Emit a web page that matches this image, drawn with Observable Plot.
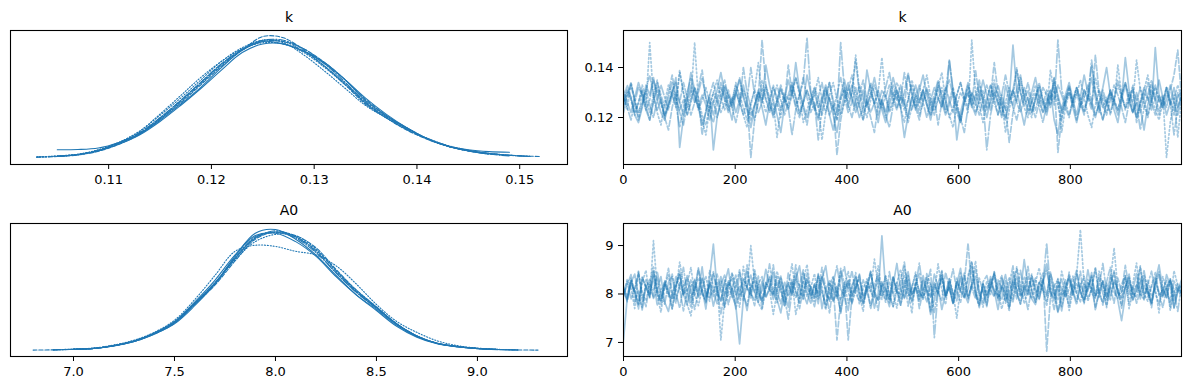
<!DOCTYPE html>
<html><head><meta charset="utf-8">
<script src="https://cdn.jsdelivr.net/npm/d3@7"></script>
<script src="https://cdn.jsdelivr.net/npm/@observablehq/plot@0.6"></script>
<style>
body{margin:0;background:#fff;}
#fig{position:relative;width:1189px;height:390px;font-family:"DejaVu Sans",sans-serif;background:#fff;}
.panel{position:absolute;}
</style></head><body><div id="fig"></div>
<script>
// ---------- data ----------
const paramNames = ["k", "A0"];
const nDraws = 1000;            // draws per chain (traces below are thinned, 150 of the 1000 draws)
const drawTicks = [0, 200, 400, 600, 800];

// KDE of k, per chain (shared grid)
const kKdeGrid = [0.103,0.105,0.107,0.109,0.111,0.113,0.115,0.117,0.119,0.121,0.123,0.125,0.127,0.129,0.131,0.133,0.135,0.137,0.139,0.141,0.143,0.145,0.147,0.149,0.151,0.152];
const kKde = [
 [null,0.070,0.072,0.085,0.13,0.20,0.31,0.44,0.58,0.74,0.88,0.95,0.93,0.87,0.78,0.64,0.47,0.35,0.25,0.16,0.10,0.070,0.055,0.050,null,null],
 [0.012,0.020,0.035,0.070,0.13,0.22,0.36,0.51,0.66,0.79,0.89,0.94,0.93,0.86,0.74,0.60,0.45,0.34,0.25,0.16,0.10,0.065,0.040,0.025,0.015,null],
 [0.010,0.015,0.028,0.058,0.115,0.195,0.32,0.45,0.60,0.75,0.88,0.99,0.98,0.88,0.75,0.60,0.44,0.33,0.23,0.155,0.10,0.062,0.040,0.026,0.018,0.015],
 [null,0.018,0.030,0.065,0.125,0.21,0.33,0.47,0.62,0.77,0.88,0.96,0.96,0.89,0.77,0.62,0.46,0.34,0.24,0.16,0.10,0.060,0.035,0.020,null,null],
 [null,0.020,0.032,0.062,0.115,0.19,0.30,0.43,0.57,0.72,0.86,0.93,0.93,0.87,0.77,0.64,0.49,0.36,0.25,0.16,0.10,0.060,0.035,null,null,null],
 [0.011,0.018,0.032,0.068,0.13,0.22,0.35,0.49,0.64,0.79,0.90,0.96,0.94,0.84,0.71,0.57,0.43,0.33,0.24,0.165,0.105,0.067,0.042,0.026,0.016,null],
 [null,0.016,0.030,0.060,0.12,0.20,0.32,0.46,0.61,0.76,0.88,0.95,0.95,0.89,0.78,0.64,0.48,0.35,0.245,0.16,0.10,0.062,0.038,0.024,null,null],
 [0.012,0.018,0.030,0.066,0.125,0.205,0.33,0.47,0.62,0.77,0.89,0.96,0.95,0.87,0.75,0.61,0.45,0.33,0.235,0.16,0.10,0.063,0.040,0.026,0.016,null]
];

// KDE of A0, per chain (shared grid)
const a0KdeGrid = [6.8,6.9,7.0,7.1,7.2,7.3,7.4,7.5,7.6,7.7,7.8,7.9,8.0,8.1,8.2,8.3,8.4,8.5,8.6,8.7,8.8,8.9,9.0,9.1,9.2,9.3];
const a0Kde = [
 [null,null,0.010,0.016,0.038,0.075,0.135,0.22,0.37,0.55,0.78,0.97,1.00,0.92,0.79,0.62,0.46,0.33,0.20,0.11,0.055,0.030,0.015,null,null,null],
 [null,null,0.012,0.020,0.045,0.085,0.15,0.25,0.42,0.62,0.82,0.87,0.86,0.82,0.79,0.70,0.55,0.38,0.24,0.15,0.080,0.040,0.020,0.010,null,null],
 [0.003,0.005,0.009,0.016,0.038,0.074,0.135,0.225,0.38,0.54,0.74,0.92,0.98,0.95,0.85,0.67,0.50,0.36,0.22,0.12,0.060,0.032,0.016,0.008,0.004,0.003],
 [null,0.005,0.010,0.017,0.040,0.078,0.14,0.23,0.39,0.55,0.76,0.93,0.99,0.94,0.82,0.64,0.48,0.35,0.22,0.12,0.060,0.032,0.016,0.008,null,null],
 [null,null,0.010,0.017,0.041,0.080,0.145,0.24,0.40,0.58,0.79,0.95,0.97,0.90,0.78,0.61,0.46,0.34,0.21,0.115,0.057,0.030,0.015,0.007,null,null],
 [null,0.006,0.011,0.018,0.042,0.080,0.145,0.235,0.39,0.56,0.75,0.90,0.96,0.95,0.84,0.66,0.50,0.36,0.22,0.12,0.060,0.034,0.017,0.009,0.005,null],
 [null,0.004,0.009,0.016,0.039,0.076,0.14,0.23,0.385,0.55,0.76,0.93,0.98,0.94,0.83,0.66,0.49,0.355,0.22,0.12,0.060,0.032,0.016,0.008,0.004,null],
 [null,null,0.010,0.017,0.040,0.077,0.14,0.23,0.39,0.56,0.77,0.94,0.975,0.93,0.81,0.645,0.485,0.35,0.22,0.12,0.060,0.033,0.016,0.008,0.004,null]
];

// Trace of k, one array per chain
const kChain0 = [0.126,0.131,0.128,0.121,0.118,0.124,0.133,0.129,0.136,0.127,0.122,0.119,0.125,0.130,0.134,0.126,0.121,0.128,0.138,0.131,0.124,0.117,0.122,0.129,0.107,0.120,0.127,0.132,0.125,0.119,0.130,0.135,0.128,0.123,0.116,0.124,0.131,0.126,0.141,0.133,0.127,0.121,0.114,0.125,0.129,0.134,0.128,0.122,0.126,0.137,0.130,0.124,0.119,0.127,0.132,0.121,0.115,0.123,0.129,0.135,0.128,0.133,0.126,0.120,0.124,0.139,0.131,0.125,0.118,0.127,0.122,0.129,0.136,0.130,0.124,0.112,0.121,0.128,0.133,0.126,0.131,0.125,0.119,0.126,0.134,0.129,0.123,0.143,0.130,0.124,0.118,0.127,0.132,0.125,0.121,0.128,0.135,0.129,0.123,0.130,0.126,0.120,0.133,0.127,0.149,0.131,0.124,0.117,0.125,0.130,0.136,0.128,0.122,0.126,0.131,0.119,0.113,0.124,0.129,0.134,0.127,0.121,0.128,0.137,0.130,0.125,0.120,0.126,0.132,0.140,0.129,0.123,0.118,0.127,0.133,0.126,0.122,0.130,0.124,0.115,0.125,0.131,0.127,0.135,0.128,0.121,0.126,0.132,0.124,0.129];
const kChain1 = [0.129,0.123,0.134,0.127,0.120,0.131,0.125,0.150,0.128,0.122,0.117,0.126,0.133,0.129,0.124,0.138,0.130,0.121,0.127,0.132,0.125,0.119,0.113,0.124,0.130,0.135,0.128,0.123,0.129,0.126,0.134,0.127,0.121,0.116,0.125,0.131,0.142,0.128,0.122,0.127,0.133,0.126,0.120,0.128,0.124,0.130,0.136,0.129,0.118,0.123,0.128,0.132,0.125,0.111,0.122,0.129,0.134,0.127,0.121,0.126,0.131,0.137,0.129,0.124,0.119,0.127,0.133,0.125,0.130,0.144,0.128,0.122,0.126,0.131,0.124,0.118,0.127,0.135,0.129,0.123,0.130,0.126,0.121,0.125,0.132,0.138,0.127,0.120,0.124,0.129,0.134,0.127,0.122,0.151,0.130,0.125,0.118,0.126,0.133,0.128,0.121,0.127,0.114,0.123,0.131,0.126,0.136,0.129,0.124,0.120,0.128,0.133,0.127,0.122,0.139,0.130,0.125,0.119,0.126,0.132,0.124,0.129,0.135,0.128,0.121,0.116,0.125,0.131,0.127,0.122,0.130,0.125,0.141,0.129,0.123,0.127,0.133,0.120,0.126,0.131,0.137,0.128,0.123,0.119,0.126,0.132,0.125,0.129,0.112,0.127];
const kChain2 = [0.122,0.128,0.133,0.126,0.119,0.125,0.131,0.137,0.129,0.123,0.127,0.120,0.115,0.124,0.130,0.126,0.134,0.128,0.121,0.126,0.132,0.139,0.127,0.122,0.118,0.125,0.129,0.135,0.128,0.124,0.130,0.126,0.121,0.127,0.104,0.119,0.128,0.151,0.133,0.126,0.120,0.125,0.131,0.127,0.123,0.129,0.136,0.130,0.124,0.117,0.126,0.132,0.128,0.121,0.127,0.134,0.125,0.119,0.128,0.131,0.124,0.130,0.143,0.129,0.122,0.126,0.120,0.114,0.125,0.131,0.128,0.133,0.127,0.123,0.129,0.125,0.137,0.130,0.124,0.119,0.127,0.132,0.126,0.121,0.128,0.124,0.131,0.135,0.129,0.122,0.118,0.126,0.130,0.125,0.139,0.128,0.123,0.127,0.133,0.126,0.121,0.129,0.124,0.110,0.122,0.128,0.134,0.127,0.131,0.125,0.120,0.126,0.132,0.129,0.124,0.136,0.128,0.122,0.127,0.133,0.126,0.119,0.125,0.131,0.128,0.123,0.145,0.130,0.125,0.121,0.127,0.133,0.129,0.124,0.118,0.126,0.131,0.127,0.122,0.128,0.134,0.126,0.121,0.129,0.125,0.132,0.127,0.123,0.130,0.126];
const kChain3 = [0.128,0.124,0.119,0.126,0.132,0.129,0.123,0.127,0.135,0.130,0.125,0.121,0.128,0.134,0.127,0.122,0.117,0.125,0.131,0.126,0.130,0.136,0.128,0.123,0.127,0.120,0.126,0.133,0.129,0.124,0.118,0.125,0.131,0.127,0.140,0.129,0.122,0.126,0.132,0.125,0.121,0.127,0.133,0.128,0.124,0.113,0.123,0.129,0.134,0.152,0.130,0.125,0.120,0.126,0.131,0.127,0.123,0.129,0.136,0.128,0.122,0.126,0.132,0.125,0.119,0.128,0.134,0.130,0.124,0.127,0.121,0.116,0.125,0.131,0.127,0.138,0.129,0.123,0.128,0.133,0.126,0.120,0.127,0.132,0.128,0.124,0.130,0.143,0.131,0.125,0.119,0.126,0.130,0.124,0.129,0.135,0.127,0.107,0.121,0.128,0.133,0.127,0.123,0.129,0.125,0.131,0.137,0.128,0.122,0.126,0.130,0.124,0.118,0.125,0.131,0.127,0.133,0.129,0.124,0.120,0.127,0.132,0.126,0.121,0.128,0.141,0.130,0.125,0.119,0.126,0.131,0.127,0.123,0.129,0.134,0.128,0.122,0.126,0.115,0.124,0.129,0.135,0.128,0.123,0.127,0.132,0.126,0.121,0.128,0.131];
const kChain4 = [0.131,0.126,0.122,0.128,0.134,0.129,0.123,0.119,0.126,0.132,0.127,0.121,0.125,0.130,0.136,0.108,0.120,0.127,0.133,0.128,0.124,0.129,0.125,0.119,0.126,0.131,0.138,0.130,0.124,0.128,0.122,0.127,0.133,0.126,0.121,0.125,0.130,0.124,0.117,0.126,0.132,0.128,0.123,0.127,0.135,0.129,0.142,0.131,0.125,0.120,0.126,0.130,0.124,0.128,0.133,0.127,0.121,0.114,0.123,0.129,0.134,0.127,0.122,0.126,0.131,0.125,0.129,0.136,0.128,0.123,0.118,0.125,0.130,0.127,0.133,0.126,0.120,0.128,0.124,0.131,0.137,0.129,0.123,0.127,0.132,0.126,0.121,0.125,0.130,0.111,0.122,0.128,0.134,0.127,0.125,0.131,0.126,0.120,0.127,0.133,0.129,0.124,0.119,0.126,0.131,0.139,0.130,0.125,0.128,0.122,0.127,0.132,0.126,0.121,0.128,0.134,0.129,0.123,0.126,0.130,0.124,0.118,0.125,0.131,0.127,0.136,0.128,0.122,0.129,0.125,0.130,0.126,0.121,0.127,0.144,0.131,0.125,0.120,0.126,0.132,0.128,0.123,0.148,0.129,0.124,0.127,0.133,0.126,0.121,0.128];
const kChain5 = [0.125,0.130,0.127,0.121,0.126,0.133,0.128,0.122,0.129,0.135,0.127,0.120,0.125,0.131,0.126,0.139,0.130,0.124,0.128,0.150,0.127,0.121,0.117,0.125,0.130,0.126,0.132,0.128,0.123,0.127,0.133,0.129,0.124,0.119,0.126,0.131,0.127,0.135,0.128,0.122,0.126,0.112,0.124,0.130,0.127,0.133,0.128,0.121,0.126,0.131,0.125,0.129,0.136,0.127,0.122,0.128,0.124,0.119,0.127,0.132,0.126,0.130,0.145,0.131,0.125,0.120,0.127,0.133,0.128,0.124,0.129,0.123,0.127,0.134,0.130,0.125,0.118,0.124,0.129,0.126,0.131,0.137,0.128,0.123,0.127,0.132,0.126,0.121,0.116,0.125,0.130,0.127,0.133,0.128,0.122,0.126,0.131,0.124,0.129,0.135,0.127,0.121,0.126,0.132,0.128,0.140,0.130,0.124,0.120,0.127,0.133,0.126,0.122,0.128,0.125,0.131,0.127,0.114,0.124,0.130,0.126,0.132,0.128,0.123,0.129,0.125,0.136,0.129,0.124,0.128,0.121,0.127,0.133,0.128,0.124,0.130,0.126,0.143,0.131,0.125,0.120,0.127,0.132,0.126,0.129,0.104,0.118,0.127,0.133,0.128];
const kChain6 = [0.127,0.133,0.128,0.122,0.126,0.131,0.125,0.119,0.127,0.134,0.129,0.124,0.130,0.137,0.128,0.123,0.127,0.121,0.126,0.132,0.128,0.113,0.123,0.129,0.134,0.127,0.122,0.126,0.131,0.125,0.130,0.136,0.129,0.124,0.119,0.125,0.130,0.127,0.133,0.128,0.122,0.127,0.132,0.126,0.141,0.130,0.124,0.120,0.126,0.131,0.127,0.123,0.128,0.134,0.126,0.121,0.125,0.105,0.119,0.127,0.132,0.128,0.124,0.129,0.135,0.127,0.122,0.126,0.131,0.125,0.120,0.127,0.133,0.128,0.124,0.130,0.138,0.129,0.123,0.127,0.131,0.125,0.121,0.128,0.117,0.126,0.132,0.127,0.122,0.129,0.134,0.128,0.124,0.130,0.126,0.121,0.127,0.133,0.128,0.142,0.130,0.125,0.120,0.127,0.131,0.126,0.122,0.128,0.134,0.127,0.123,0.129,0.125,0.131,0.127,0.136,0.106,0.120,0.127,0.132,0.126,0.130,0.124,0.128,0.133,0.127,0.121,0.125,0.131,0.126,0.122,0.128,0.135,0.129,0.124,0.127,0.132,0.118,0.125,0.130,0.127,0.133,0.126,0.121,0.128,0.124,0.131,0.137,0.147,0.128];
const kChain7 = [0.124,0.129,0.134,0.127,0.122,0.126,0.131,0.125,0.120,0.127,0.133,0.128,0.123,0.129,0.125,0.116,0.124,0.130,0.136,0.129,0.123,0.127,0.132,0.126,0.121,0.128,0.134,0.127,0.122,0.126,0.131,0.125,0.140,0.130,0.124,0.119,0.126,0.132,0.127,0.123,0.128,0.133,0.127,0.121,0.126,0.131,0.125,0.129,0.136,0.128,0.122,0.126,0.111,0.123,0.129,0.134,0.127,0.122,0.150,0.131,0.125,0.120,0.127,0.133,0.128,0.124,0.130,0.126,0.121,0.127,0.132,0.138,0.129,0.124,0.128,0.123,0.127,0.133,0.126,0.121,0.126,0.131,0.125,0.129,0.135,0.128,0.122,0.127,0.132,0.126,0.120,0.114,0.124,0.130,0.127,0.133,0.128,0.123,0.126,0.131,0.125,0.129,0.137,0.130,0.124,0.119,0.126,0.132,0.127,0.122,0.128,0.134,0.127,0.123,0.129,0.125,0.151,0.131,0.126,0.121,0.127,0.132,0.126,0.122,0.128,0.143,0.130,0.124,0.119,0.126,0.131,0.127,0.123,0.129,0.134,0.128,0.122,0.126,0.132,0.127,0.121,0.128,0.133,0.127,0.124,0.130,0.126,0.113,0.124,0.129];

// Trace of A0, one array per chain
const a0Chain0 = [8.05,7.88,8.24,8.41,7.96,7.72,8.13,8.30,7.91,8.07,8.36,7.83,7.64,8.02,8.19,8.47,7.99,7.78,8.15,8.28,7.93,8.10,7.69,8.33,9.03,8.08,7.86,8.21,8.52,7.97,7.75,6.97,7.90,8.17,8.39,8.04,7.82,8.26,7.95,8.12,8.44,7.89,7.61,8.06,8.23,7.98,8.31,8.58,8.01,7.80,8.14,7.92,8.37,7.70,8.09,8.27,7.85,8.02,8.48,7.94,7.66,8.18,8.35,7.99,7.79,8.11,8.43,8.06,7.87,8.25,8.00,7.74,8.19,8.63,8.08,7.91,8.29,7.83,8.13,7.96,8.38,8.04,7.58,7.88,8.22,8.46,7.97,8.15,7.81,8.05,8.32,7.93,8.10,8.55,8.01,7.76,8.20,7.89,8.36,8.07,7.68,8.12,8.40,7.98,7.84,8.24,8.03,8.71,8.16,7.90,7.78,8.09,8.30,7.95,8.45,8.02,7.62,7.92,8.18,8.34,8.06,7.85,8.21,7.99,8.50,8.11,7.73,8.00,8.27,7.94,8.39,8.14,7.87,7.45,7.96,8.23,8.08,8.42,7.90,8.17,8.03,7.80,8.26,8.60,8.10,7.93,8.31,7.71,8.05,8.19];
const a0Chain1 = [7.94,8.31,8.12,7.70,8.45,8.03,7.86,8.22,8.58,7.98,7.62,8.17,8.39,7.91,8.07,8.66,8.21,7.79,7.55,8.10,8.33,8.01,7.84,8.49,8.14,7.96,8.28,7.73,8.05,8.42,8.19,7.88,8.57,8.09,9.00,8.24,7.82,7.67,8.13,8.36,7.99,8.47,8.18,7.76,8.02,8.30,7.58,7.93,8.25,8.61,8.08,7.85,8.40,8.15,7.71,8.04,8.34,7.95,8.53,8.20,7.81,8.11,8.44,7.98,7.64,8.26,8.06,8.72,8.16,7.89,8.37,8.00,7.74,8.23,8.51,7.92,8.12,7.60,8.29,8.07,7.87,8.43,8.19,7.97,8.62,8.09,7.78,8.32,8.03,7.50,8.14,8.38,7.94,8.22,8.68,8.05,7.83,8.27,7.99,8.46,8.11,7.69,8.02,8.35,7.90,8.56,8.18,7.80,8.08,8.41,7.96,8.24,8.13,7.75,8.30,8.01,7.88,8.47,8.15,7.66,8.06,8.39,9.33,8.20,7.85,8.10,8.52,7.93,8.27,7.72,8.17,8.44,7.98,8.04,8.35,7.79,8.21,8.64,8.00,7.89,8.29,7.95,8.12,7.61,8.36,8.09,7.84,8.48,8.18,8.02];
const a0Chain2 = [8.11,7.84,8.27,8.02,7.69,8.35,8.14,7.93,8.46,8.06,7.78,8.20,8.01,7.89,8.38,8.12,7.65,8.04,8.29,7.97,8.53,8.09,7.82,8.23,7.95,8.41,8.07,7.73,8.17,8.32,7.99,8.15,7.87,8.48,8.03,7.76,8.21,8.36,7.92,8.10,8.60,8.05,7.80,8.26,7.96,8.13,8.44,7.70,8.08,8.31,7.91,8.18,8.02,8.55,8.11,7.85,8.24,7.98,7.63,8.16,7.05,7.94,8.34,8.09,7.81,8.20,8.47,8.00,7.88,8.13,8.37,7.97,7.74,8.06,8.28,8.66,8.04,7.86,8.19,8.42,7.92,8.10,7.68,8.25,8.01,8.39,7.95,8.15,8.52,8.07,7.83,8.22,9.05,8.12,7.90,8.33,8.05,7.77,8.18,8.45,8.00,7.88,8.27,7.71,8.14,8.36,7.96,8.09,8.57,8.03,7.84,8.21,8.43,6.82,7.93,8.17,8.30,7.98,8.06,7.75,8.24,8.49,8.02,7.89,8.13,8.38,7.66,8.08,8.26,7.94,8.15,7.81,8.33,8.04,8.59,8.11,7.87,8.20,7.99,8.40,8.07,7.72,8.23,8.46,7.96,8.14,8.31,7.85,8.10,8.02];
const a0Chain3 = [7.97,8.19,8.40,7.83,8.08,7.67,8.29,8.12,7.94,8.47,8.05,7.79,8.24,8.36,7.90,8.15,8.55,8.01,7.72,8.20,7.96,8.33,8.07,7.85,8.42,8.11,7.59,8.02,8.27,7.93,8.16,8.50,7.99,7.76,8.21,8.04,8.37,7.88,8.13,8.62,8.09,7.82,8.25,7.95,7.48,8.06,8.30,8.18,7.91,8.44,8.00,7.74,8.14,8.35,8.03,7.87,8.22,8.58,8.10,7.96,8.28,7.80,8.08,8.41,7.93,8.17,7.69,8.04,8.32,8.12,7.89,8.46,8.01,8.23,7.77,8.10,8.38,7.98,8.15,8.64,8.06,7.84,8.20,7.62,8.11,8.34,7.95,8.27,8.00,7.86,8.43,8.13,7.92,8.19,8.52,8.02,7.73,8.09,8.30,7.97,8.16,8.39,7.81,8.07,8.24,7.90,8.49,8.05,7.68,8.14,8.33,7.99,8.21,9.05,8.08,7.85,8.26,8.12,7.94,8.45,8.03,7.78,8.18,8.36,7.91,8.10,8.56,8.00,7.83,8.22,7.96,8.29,8.07,7.71,8.15,8.41,7.98,8.04,8.34,7.88,8.20,8.47,8.02,7.80,8.13,7.92,8.27,8.09,7.64,8.18];
const a0Chain4 = [7.05,7.92,8.21,8.06,7.78,8.34,8.13,7.95,8.48,8.01,7.86,8.25,8.09,7.70,8.17,8.40,7.99,8.11,7.83,8.30,8.04,8.56,7.93,8.19,7.75,8.08,8.36,7.97,8.23,8.12,7.81,8.44,8.02,7.66,8.15,8.29,7.94,8.07,8.51,8.18,7.89,8.10,8.37,8.00,7.73,8.26,8.05,7.91,8.43,8.14,7.98,8.20,7.80,8.32,8.58,8.03,7.87,8.16,7.60,8.09,8.27,7.96,8.12,8.39,7.84,8.06,8.22,7.71,8.00,9.20,8.11,7.90,8.35,8.04,7.77,8.19,8.46,7.99,8.13,7.85,8.28,8.07,7.94,8.41,8.15,7.68,8.02,8.31,7.95,8.20,8.53,8.01,7.82,8.17,8.36,7.97,8.10,7.74,8.24,8.08,7.93,8.33,8.12,7.86,8.45,8.05,7.79,8.21,8.00,8.38,8.14,7.89,8.27,8.62,8.03,7.92,8.18,7.65,8.09,8.30,7.98,8.42,8.06,7.83,8.23,8.11,7.96,8.35,8.01,7.76,8.19,8.48,8.04,7.90,8.14,8.32,7.87,8.08,8.55,7.99,8.13,7.81,8.26,8.02,7.94,8.40,8.17,7.72,8.07,8.29];
const a0Chain5 = [8.17,7.95,8.33,8.06,7.80,8.24,8.49,7.91,9.10,8.12,7.85,8.28,8.03,7.69,8.15,8.40,7.98,8.21,8.55,8.00,7.76,8.11,8.37,7.93,8.08,8.26,7.05,7.87,8.19,8.44,8.02,7.73,8.30,8.14,7.96,8.52,8.07,7.84,8.23,8.10,7.58,8.04,8.35,7.99,8.18,8.62,8.01,7.82,8.27,7.94,8.13,8.42,7.90,8.09,7.67,8.20,8.36,8.05,7.88,8.16,8.47,7.97,8.22,7.79,8.11,8.31,8.03,7.93,8.58,8.08,7.83,8.25,8.00,7.71,8.17,8.39,7.96,8.12,8.45,7.89,8.06,8.29,7.62,8.15,8.02,8.50,7.92,8.19,7.81,8.33,8.09,7.94,8.38,8.68,8.04,7.77,8.21,7.98,8.13,8.43,7.86,8.18,8.01,7.64,8.27,8.10,7.95,8.36,8.07,7.90,8.24,8.54,8.05,7.84,8.16,7.97,8.32,7.74,8.11,8.40,7.99,8.22,8.08,7.80,8.30,8.02,7.91,8.47,8.15,7.87,8.26,8.95,8.10,7.93,8.38,7.70,8.03,8.19,8.58,8.00,7.85,8.14,8.35,7.96,8.09,8.28,7.66,8.04,8.21,8.12];
const a0Chain6 = [8.00,8.26,7.89,8.13,8.42,7.97,7.74,8.19,8.08,8.35,7.92,8.15,8.53,8.04,7.81,8.23,7.99,8.38,8.10,7.68,8.06,8.31,7.94,8.17,8.46,8.02,7.85,8.28,7.78,8.12,8.39,7.96,8.09,8.60,8.01,7.88,8.20,7.71,8.14,8.33,7.98,8.24,8.05,7.83,8.44,8.11,7.93,8.18,8.50,8.03,7.80,8.21,7.95,8.36,8.07,7.61,8.16,7.05,7.90,8.25,8.12,8.48,8.01,7.86,8.29,8.06,7.75,8.19,8.40,7.97,8.10,7.82,8.34,8.04,7.91,8.57,8.15,7.99,8.23,7.70,8.08,8.37,7.94,8.20,8.02,7.87,8.45,8.13,7.79,8.27,8.05,7.92,8.31,8.66,8.09,7.84,8.22,7.96,8.17,8.41,7.89,8.14,8.03,7.73,8.28,8.52,8.00,7.95,8.36,8.11,7.83,8.24,8.07,7.98,8.43,8.16,7.63,8.05,8.30,7.90,8.19,8.02,8.47,7.86,8.12,8.35,7.97,8.09,7.77,8.25,8.55,8.04,7.91,8.20,8.38,7.99,8.14,7.81,8.06,8.32,7.94,8.18,8.44,8.01,7.72,8.10,8.28,7.96,8.15,8.03];
const a0Chain7 = [8.13,7.90,8.29,8.04,8.47,7.84,8.18,7.99,8.36,7.76,8.08,8.22,7.95,8.41,8.02,7.71,8.15,8.33,7.93,8.10,8.54,8.01,7.87,8.26,8.06,7.80,8.20,8.39,7.97,8.12,7.69,8.05,8.31,8.16,7.92,8.45,8.03,7.85,8.24,8.09,7.98,8.37,8.11,7.74,8.19,8.00,8.60,8.07,7.89,8.28,8.14,7.95,8.42,8.02,7.79,8.23,8.10,7.91,8.34,8.56,8.04,7.82,8.17,8.30,7.96,8.08,8.46,8.01,7.66,8.21,8.12,7.88,8.35,8.05,7.99,8.27,7.75,8.15,8.40,8.03,7.93,8.19,8.51,7.10,8.09,8.32,7.97,8.13,7.83,8.24,8.06,8.43,7.90,8.18,8.00,7.72,8.25,8.38,8.08,7.94,8.29,8.11,7.86,8.20,8.58,8.02,7.80,8.16,7.98,8.33,8.07,7.91,8.24,8.49,8.04,7.68,8.14,8.30,7.95,8.10,8.37,8.00,7.84,8.21,8.06,8.44,7.92,8.17,8.63,8.03,7.88,8.26,8.09,7.77,8.15,8.35,8.01,7.94,8.22,8.48,8.05,7.83,8.19,8.40,7.97,8.12,7.73,8.27,8.08,7.96];

const kChains = [kChain0,kChain1,kChain2,kChain3,kChain4,kChain5,kChain6,kChain7];
const a0Chains = [a0Chain0,a0Chain1,a0Chain2,a0Chain3,a0Chain4,a0Chain5,a0Chain6,a0Chain7];

// ---------- styles ----------
const C0 = "#1f77b4";
const dashes = [undefined, "1.1,1.8", "4.1,1.8", "7,1.8,1.1,1.8"];
const traceDashes = [undefined, "1.6,2.4", "5.6,2.4", "9.5,2.4,1.6,2.4"];
const baseStyle = {fontFamily: "'DejaVu Sans', sans-serif", fontSize: "13px", background: "white", color: "black", overflow: "visible"};

function titleMark(t) {
  return Plot.text([t], {frameAnchor: "top", lineAnchor: "bottom", dy: -8.5, fontSize: 14, fill: "black"});
}

function kdePanel(grid, dens, xDomain, xTicks, fmt, title, mt, mb) {
  const ymax = d3.max(dens.flat().filter(v => v != null));
  return Plot.plot({
    width: 590, height: 195, marginLeft: 10, marginRight: 23, marginTop: mt, marginBottom: mb,
    style: baseStyle,
    x: {domain: xDomain},
    y: {domain: [-0.05 * ymax, 1.05 * ymax], axis: null},
    marks: [
      ...dens.map((d, c) => Plot.line(grid.map((x, i) => ({x, y: d[i]})), {
        x: "x", y: "y", stroke: C0, strokeWidth: 1.1, strokeDasharray: dashes[c % 4], curve: "catmull-rom"
      })),
      Plot.axisX({ticks: xTicks, tickFormat: fmt, tickSize: 5, tickPadding: 5, label: null}),
      Plot.frame({stroke: "black", strokeWidth: 1.1}),
      titleMark(title)
    ]
  });
}

function tracePanel(chains, yDomain, yTicks, yFmt, title, mt, mb) {
  return Plot.plot({
    width: 594, height: 195, marginLeft: 28, marginRight: 8, marginTop: mt, marginBottom: mb,
    style: baseStyle,
    x: {domain: [0, nDraws - 1]},
    y: {domain: yDomain},
    marks: [
      ...chains.map((d, c) => Plot.line(d, {
        x: (v, i) => i * (nDraws - 1) / (d.length - 1), y: v => v,
        stroke: C0, strokeOpacity: 0.4, strokeWidth: 1.7, strokeDasharray: traceDashes[c % 4], clip: true
      })),
      Plot.axisX({ticks: drawTicks, tickFormat: "d", tickSize: 5, tickPadding: 5, label: null}),
      Plot.axisY({ticks: yTicks, tickFormat: yFmt, tickSize: 5, tickPadding: 5, label: null}),
      Plot.frame({stroke: "black", strokeWidth: 1.1}),
      titleMark(title)
    ]
  });
}

const fig = document.getElementById("fig");
function place(el, left, top) {
  const d = document.createElement("div");
  d.className = "panel"; d.style.left = left + "px"; d.style.top = top + "px";
  d.appendChild(el); fig.appendChild(d);
}

place(kdePanel(kKdeGrid, kKde, [0.10045, 0.15465], [0.11, 0.12, 0.13, 0.14, 0.15], d3.format(".2f"), paramNames[0], 30, 31), 0, 0);
place(tracePanel(kChains, [0.1012, 0.1548], [0.12, 0.14], d3.format(".2f"), paramNames[0], 30, 31), 595, 0);
place(kdePanel(a0KdeGrid, a0Kde, [6.688, 9.446], [7.0, 7.5, 8.0, 8.5, 9.0], d3.format(".1f"), paramNames[1], 28, 34), 0, 195);
place(tracePanel(a0Chains, [6.71, 9.455], [7, 8, 9], d3.format("d"), paramNames[1], 28, 34), 595, 195);
</script>
</body></html>
